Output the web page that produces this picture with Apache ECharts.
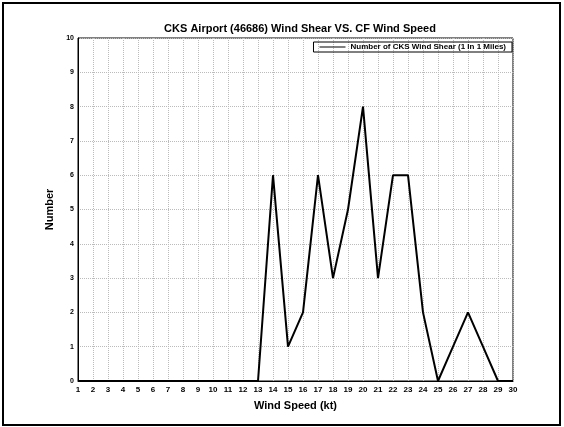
<!DOCTYPE html>
<html>
<head>
<meta charset="utf-8">
<script src="https://cdn.jsdelivr.net/npm/echarts@6/dist/echarts.min.js"></script>
<style>
  html, body { margin: 0; padding: 0; background: #fff; }
  #chart { width: 564px; height: 427px; }
</style>
</head>
<body>
<div id="chart"></div>
<script>
// Wind speed bins (kt)
var windSpeeds = ['1','2','3','4','5','6','7','8','9','10','11','12','13','14','15',
                  '16','17','18','19','20','21','22','23','24','25','26','27','28','29','30'];
// Wind shear counts per wind speed bin
var shearCounts = [0,0,0,0,0,0,0,0,0,0,0,0,0,6,1,2,6,3,5,8,3,6,6,2,0,1,2,1,0,0];
var yTicks = [0,1,2,3,4,5,6,7,8,9,10];

var seriesName = 'Number of CKS Wind Shear (1 In 1 Miles)';
var chart = echarts.init(document.getElementById('chart'));
var fontFam = 'Liberation Sans, Arial, sans-serif';

chart.setOption({
  animation: false,
  backgroundColor: '#fff',
  title: {
    text: 'CKS Airport (46686) Wind Shear VS. CF Wind Speed',
    left: 295, top: 18, textAlign: 'center',
    textStyle: { fontFamily: fontFam, fontSize: 11, fontWeight: 'bold', color: '#000' }
  },
  legend: {
    data: [seriesName],
    right: 52, top: 42,
    itemWidth: 26, itemHeight: 8, itemGap: 4,
    padding: [1, 6, 1, 6],
    borderColor: '#000', borderWidth: 1,
    icon: 'path://M0,4 L26,4 L26,5 L0,5 Z',
    textStyle: { fontFamily: fontFam, fontSize: 8, fontWeight: 'bold', color: '#000' }
  },
  grid: { left: 78, right: 51, top: 38, bottom: 46, show: true, borderColor: '#000', borderWidth: 1 },
  xAxis: {
    type: 'category',
    data: windSpeeds,
    boundaryGap: false,
    name: 'Wind Speed (kt)',
    nameLocation: 'middle',
    nameGap: 19,
    nameTextStyle: { fontFamily: fontFam, fontSize: 11, fontWeight: 'bold', color: '#000' },
    axisLine: { lineStyle: { color: '#000', width: 1 } },
    axisTick: { show: false },
    axisLabel: { interval: 0, margin: 5, fontFamily: fontFam, fontSize: 8, fontWeight: 'bold', color: '#000' },
    splitLine: { show: true, lineStyle: { color: '#bbb', type: 'dotted', width: 1 } }
  },
  yAxis: {
    type: 'value',
    min: yTicks[0], max: yTicks[yTicks.length - 1], interval: 1,
    name: 'Number',
    nameLocation: 'middle',
    nameGap: 16,
    nameTextStyle: { fontFamily: fontFam, fontSize: 11, fontWeight: 'bold', color: '#000' },
    axisLine: { show: true, lineStyle: { color: '#000', width: 1 } },
    axisTick: { show: false },
    axisLabel: { margin: 4, fontFamily: fontFam, fontSize: 7, fontWeight: 'bold', color: '#000' },
    splitLine: { show: true, lineStyle: { color: '#bbb', type: 'dotted', width: 1 } }
  },
  series: [{
    name: seriesName,
    type: 'line',
    data: shearCounts,
    symbol: 'none',
    color: '#000',
    lineStyle: { color: '#000', width: 2 }
  }],
  graphic: [{
    type: 'rect',
    shape: { x: 3, y: 3, width: 557, height: 422 },
    style: { fill: 'none', stroke: '#000', lineWidth: 2 },
    silent: true
  }]
});
</script>
</body>
</html>
